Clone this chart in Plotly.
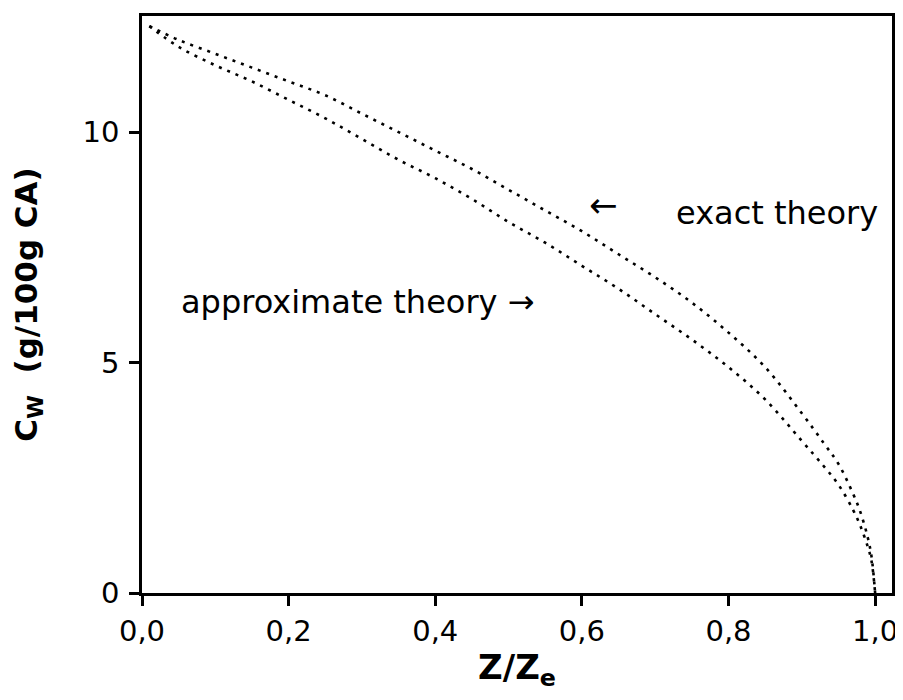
import plotly.graph_objects as go

# z/z_e values and water concentration (g/100g CA)
exact_x = [0.01, 0.05, 0.10, 0.15, 0.20, 0.25, 0.30, 0.35, 0.40, 0.45, 0.50, 0.55, 0.60,
           0.65, 0.70, 0.75, 0.80, 0.85, 0.90, 0.93, 0.95, 0.97, 0.98, 0.99, 0.995, 1.0]
exact_y = [12.3, 12.0, 11.7, 11.4, 11.1, 10.8, 10.4, 10.0, 9.6, 9.2, 8.75, 8.3, 7.85,
           7.35, 6.85, 6.3, 5.65, 4.9, 3.9, 3.25, 2.8, 2.15, 1.75, 1.2, 0.8, 0.0]

approx_x = [0.01, 0.05, 0.10, 0.15, 0.20, 0.25, 0.30, 0.35, 0.40, 0.45, 0.50, 0.55, 0.60,
            0.65, 0.70, 0.75, 0.80, 0.85, 0.90, 0.93, 0.95, 0.97, 0.98, 0.99, 0.995, 1.0]
approx_y = [12.3, 11.85, 11.45, 11.1, 10.7, 10.3, 9.85, 9.4, 9.0, 8.55, 8.05, 7.6, 7.1,
            6.6, 6.05, 5.5, 4.9, 4.2, 3.3, 2.75, 2.35, 1.8, 1.45, 1.0, 0.7, 0.0]

x_ticks = [0.0, 0.2, 0.4, 0.6, 0.8, 1.0]
x_tick_labels = ["0,0", "0,2", "0,4", "0,6", "0,8", "1,0"]
y_ticks = [0, 5, 10]
y_tick_labels = ["0", "5", "10"]

FONT = "DejaVu Sans"

fig = go.Figure()
for xs, ys, nm in [(exact_x, exact_y, "exact theory"), (approx_x, approx_y, "approximate theory")]:
    fig.add_trace(go.Scatter(x=xs, y=ys, mode="lines", name=nm, line_shape="spline",
                             line=dict(color="black", width=2.6, dash="3px,6px"), showlegend=False))

fig.add_annotation(x=1.007, y=8.24, text="exact theory", showarrow=False,
                   xanchor="right", yanchor="middle", font=dict(family=FONT, size=32, color="black"))
fig.add_annotation(x=0.629, y=8.42, text="←", showarrow=False,
                   xanchor="center", yanchor="middle", font=dict(family=FONT, size=34, color="black"))
fig.add_annotation(x=0.051, y=6.31, text="approximate theory →", showarrow=False,
                   xanchor="left", yanchor="middle", font=dict(family=FONT, size=32, color="black"))

fig.update_layout(
    width=895, height=684,
    margin=dict(l=134, r=11, t=8, b=99),
    paper_bgcolor="white", plot_bgcolor="white",
    font=dict(family=FONT, color="black"),
    xaxis=dict(range=[0, 1.023], tickvals=x_ticks, ticktext=x_tick_labels, automargin=False,
               showgrid=False, zeroline=False, showline=True, linecolor="black", linewidth=2.5,
               mirror=True, ticks="outside", ticklen=10, tickwidth=2.5, tickcolor="black",
               tickfont=dict(family=FONT, size=29), ticklabeloverflow="allow",
               title=dict(text="<b>Z/Z<sub>e</sub></b>", font=dict(family=FONT, size=34), standoff=26)),
    yaxis=dict(range=[0, 12.52], tickvals=y_ticks, ticktext=y_tick_labels, automargin=False,
               showgrid=False, zeroline=False, showline=True, linecolor="black", linewidth=2.5,
               mirror=True, ticks="outside", ticklen=10, tickwidth=2.5, tickcolor="black",
               tickfont=dict(family=FONT, size=29), ticklabelstandoff=4,
               title=dict(text="<b>C<sub>W</sub>  (g/100g CA)</b>", font=dict(family=FONT, size=31), standoff=38)),
)

fig.write_html("out.html")
